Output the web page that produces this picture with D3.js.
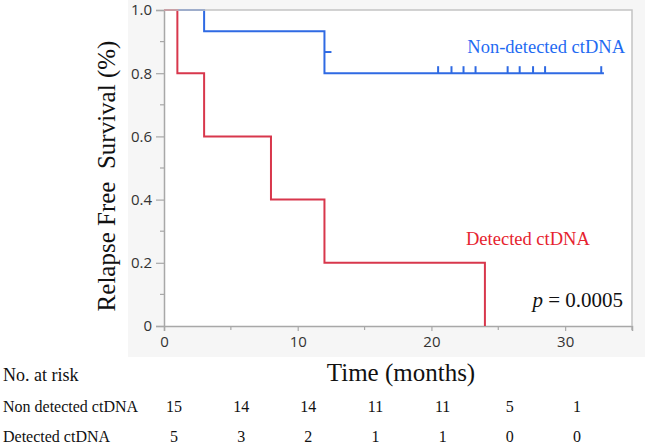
<!DOCTYPE html>
<html>
<head>
	<title>km-ctdna</title>
	<meta charset="utf-8">
	<style type="text/css">
		body { margin: 0; background: #fff; }
		.serif { font-family: "Liberation Serif", "Times New Roman", serif; }
		.tick text { font-family: "Open Sans", sans-serif; font-size: 15px; fill: #333; }
	</style>
</head>
<body>

<script type="text/javascript" src="https://cdn.jsdelivr.net/npm/d3@7"></script>
<script type="text/javascript">
	/*=========DATA=========*/
	var detTimes = [0, 1, 3, 8, 12, 24];
	var detSurv = [1, 0.8, 0.6, 0.4, 0.2, 0];
	var nonTimes = [0, 3, 12, 32.9];
	var nonSurv = [1, 0.933, 0.8, 0.8];
	var nonCensorTimes = [20.5, 21.5, 22.4, 23.3, 25.7, 26.6, 27.6, 28.5, 32.7];
	var nonCensorSurv = 0.8;
	var sideCensorTime = 12;
	var sideCensorSurv = 0.867;

	var xTicks = [0, 10, 20, 30];
	var yTicks = [0, 0.2, 0.4, 0.6, 0.8, 1.0];
	var yTickLabels = ["0", "0.2", "0.4", "0.6", "0.8", "1.0"];

	var riskTimes = [0, 5, 10, 15, 20, 25, 30];
	var riskGroups = ["Non detected ctDNA", "Detected ctDNA"];
	var nonRisk = [15, 14, 14, 11, 11, 5, 1];
	var detRisk = [5, 3, 2, 1, 1, 0, 0];

	/*===========COLOR=======*/
	var blue = "#2f6ae3";
	var red = "#d8374c";

	/*=====SIZE SVG======*/
	var w = 645;
	var h = 444;
	var svg = d3.select("body").append("svg").attr("width", w).attr("height", h);

	var pLeft = 164, pRight = 632, pTop = 10, pBottom = 326;
	var x = d3.scaleLinear().domain([0, 35]).range([pLeft, pRight]);
	var y = d3.scaleLinear().domain([0, 1]).range([pBottom, pTop]);

	// gray panel + white plot area
	svg.append("rect").attr("x", 128).attr("y", 0).attr("width", w - 128).attr("height", 357).attr("fill", "#f6f6f6");
	svg.append("rect").attr("x", pLeft).attr("y", pTop).attr("width", pRight - pLeft).attr("height", pBottom - pTop).attr("fill", "#fff");

	/*=========AXES============*/
	var yAxis = d3.axisLeft(y).tickValues(yTicks).tickSize(8).tickPadding(4)
		.tickFormat(function(d, i){ return yTickLabels[i]; });
	var gy = svg.append("g").attr("transform", "translate(" + pLeft + ",0)").call(yAxis);
	var xAxis = d3.axisBottom(x).tickValues(xTicks).tickSize(5).tickPadding(5).tickFormat(d3.format("d"));
	var gx = svg.append("g").attr("transform", "translate(0," + pBottom + ")").call(xAxis);
	[gx, gy].forEach(function(g){
		g.select(".domain").attr("stroke", "#a8a8a8").attr("stroke-width", 1.5);
		g.selectAll(".tick line").attr("stroke", "#a8a8a8").attr("stroke-width", 1.2);
	});
	// minor ticks
	svg.append("g").selectAll("line").data([0.1, 0.3, 0.5, 0.7, 0.9]).enter().append("line")
		.attr("x1", pLeft - 4).attr("x2", pLeft).attr("y1", y).attr("y2", y)
		.attr("stroke", "#a8a8a8").attr("stroke-width", 1.2);
	svg.append("g").selectAll("line").data([5, 15, 25, 35]).enter().append("line")
		.attr("y1", pBottom).attr("y2", pBottom + 4).attr("x1", x).attr("x2", x)
		.attr("stroke", "#a8a8a8").attr("stroke-width", 1.2);

	/*=========CURVES============*/
	var line = d3.line()
		.x(function(d){ return x(d[0]); })
		.y(function(d){ return y(d[1]); })
		.curve(d3.curveStepAfter);

	svg.append("path").datum(d3.zip(nonTimes, nonSurv))
		.attr("fill", "none").attr("stroke", blue).attr("stroke-width", 2).attr("d", line);
	svg.append("path").datum(d3.zip(detTimes, detSurv))
		.attr("fill", "none").attr("stroke", red).attr("stroke-width", 2).attr("d", line);

	// censor marks
	svg.append("g").selectAll("line").data(nonCensorTimes).enter().append("line")
		.attr("x1", x).attr("x2", x)
		.attr("y1", y(nonCensorSurv)).attr("y2", y(nonCensorSurv) - 7)
		.attr("stroke", blue).attr("stroke-width", 2);
	svg.append("line")
		.attr("x1", x(sideCensorTime)).attr("x2", x(sideCensorTime) + 7)
		.attr("y1", y(sideCensorSurv)).attr("y2", y(sideCensorSurv))
		.attr("stroke", blue).attr("stroke-width", 2);

	// top / right border
	svg.append("path")
		.attr("d", "M" + pLeft + "," + pTop + "H" + pRight + "V" + pBottom)
		.attr("fill", "none").attr("stroke", "#c4c4c4").attr("stroke-width", 1.5);

	/*=========TEXT============*/
	svg.append("text").attr("class", "serif").attr("x", 625).attr("y", 53)
		.attr("text-anchor", "end").attr("font-size", 18.5).attr("fill", "#1f6bf2")
		.text("Non-detected ctDNA");
	svg.append("text").attr("class", "serif").attr("x", 466).attr("y", 245)
		.attr("font-size", 18.5).attr("fill", "#e6232f")
		.text("Detected ctDNA");
	var pv = svg.append("text").attr("class", "serif").attr("x", 623).attr("y", 307)
		.attr("text-anchor", "end").attr("font-size", 21).attr("fill", "#111");
	pv.append("tspan").attr("font-style", "italic").text("p");
	pv.append("tspan").text(" = 0.0005");

	svg.append("text").attr("class", "serif")
		.attr("transform", "translate(115,176) rotate(-90)")
		.attr("text-anchor", "middle").attr("font-size", 25).attr("fill", "#111")
		.style("white-space", "pre")
		.text("Relapse Free  Survival (%)");
	svg.append("text").attr("class", "serif").attr("x", 401).attr("y", 381)
		.attr("text-anchor", "middle").attr("font-size", 25).attr("fill", "#111")
		.text("Time (months)");

	/*=========RISK TABLE============*/
	var tx = d3.scaleLinear().domain([0, 30]).range([174, 577]);
	svg.append("text").attr("class", "serif").attr("x", 3).attr("y", 381)
		.attr("font-size", 18).attr("fill", "#111").text("No. at risk");
	var rows = [nonRisk, detRisk];
	var rowY = [412, 442];
	rows.forEach(function(vals, r){
		svg.append("text").attr("class", "serif").attr("x", 3).attr("y", rowY[r])
			.attr("font-size", 16).attr("fill", "#111").text(riskGroups[r]);
		svg.append("g").selectAll("text").data(vals).enter().append("text")
			.attr("class", "serif")
			.attr("x", function(d, i){ return tx(riskTimes[i]); })
			.attr("y", rowY[r])
			.attr("text-anchor", "middle").attr("font-size", 16).attr("fill", "#111")
			.text(function(d){ return d; });
	});
</script>
</body>
</html>
